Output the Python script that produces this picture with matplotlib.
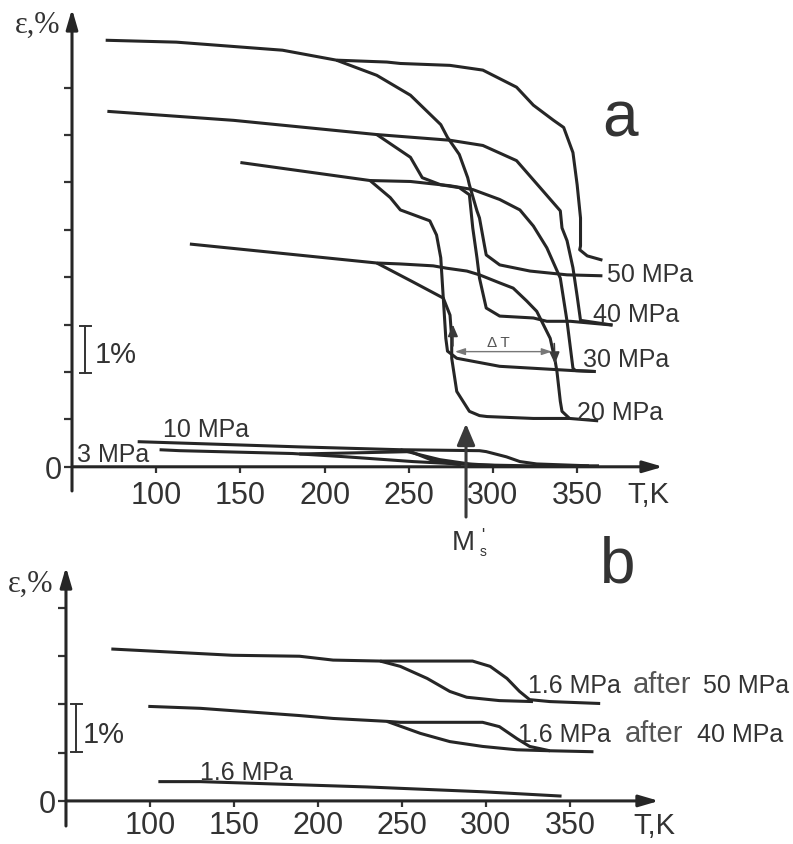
#! /usr/bin/python

import matplotlib.pyplot as plt

plt.rc('font', family=['Liberation Sans', 'DejaVu Sans'])

INK = '#262626'   # curves and axes
TXT = '#333333'   # text

# ---------------- panel a : loaded cooling / heating ----------------
t50_heat = [70, 112, 175, 207, 237, 245, 274.5, 294, 314, 324, 336, 342, 347.5, 350, 352, 352, 351.5, 356, 365]
e50_heat = [9.00, 8.96, 8.79, 8.58, 8.54, 8.51, 8.47, 8.37, 8.01, 7.63, 7.31, 7.16, 6.63, 5.95, 5.25, 4.66, 4.58, 4.45, 4.36]
t50_cool = [207, 231, 251, 269, 273, 280, 285, 286, 290.5, 292, 295, 296, 304, 322, 344, 365]
e50_cool = [8.58, 8.26, 7.84, 7.22, 6.95, 6.59, 6.10, 5.95, 5.40, 5.25, 4.66, 4.47, 4.26, 4.13, 4.05, 4.03]

t40_heat = [71, 146, 231, 274.5, 294, 314, 328, 340, 341, 344, 347.5, 350, 352, 371]
e40_heat = [7.50, 7.31, 7.01, 6.89, 6.78, 6.46, 5.89, 5.40, 5.04, 4.77, 4.20, 3.60, 3.09, 2.99]
t40_cool = [231, 251, 258, 269, 280, 286, 288, 290.5, 292, 296, 304, 324, 332, 346, 371]
e40_cool = [7.01, 6.53, 6.10, 5.95, 5.89, 5.74, 5.04, 4.41, 3.98, 3.35, 3.18, 3.14, 3.07, 3.07, 2.99]

t30_heat = [150, 227, 251, 274.5, 288, 304, 316, 324, 332, 340, 344, 347.5, 349, 361]
e30_heat = [6.42, 6.04, 6.02, 5.93, 5.85, 5.64, 5.42, 5.08, 4.62, 3.98, 3.07, 2.08, 2.03, 2.01]
t30_cool = [227, 239, 245, 262.5, 266.5, 269, 270.5, 272, 273, 278.5, 304, 347.5, 361]
e30_cool = [6.04, 5.68, 5.42, 5.19, 4.89, 4.41, 3.56, 2.71, 2.44, 2.29, 2.12, 2.03, 2.01]

t20_heat = [120, 231, 245, 264.5, 272.5, 284.5, 292, 304, 312, 320, 326, 334, 337, 338, 340, 341, 345.5, 362.5]
e20_heat = [4.70, 4.30, 4.28, 4.24, 4.19, 4.13, 4.05, 3.88, 3.77, 3.50, 3.28, 2.71, 2.22, 2.01, 1.38, 1.17, 1.02, 0.97]
t20_cool = [231, 252.5, 270.5, 274.5, 275.5, 275.5, 278.5, 286, 292, 296.5, 324, 345.5]
e20_cool = [4.30, 3.90, 3.56, 3.20, 2.71, 2.29, 1.59, 1.17, 1.08, 1.06, 1.02, 1.02]

t10_heat = [89, 185, 245, 292, 296, 308, 316, 326, 357]
e10_heat = [0.53, 0.42, 0.36, 0.34, 0.32, 0.21, 0.11, 0.06, 0.02]
t10_cool = [245, 257, 268.5, 286, 304]
e10_cool = [0.36, 0.25, 0.15, 0.06, 0.02]

t3_heat = [102, 114, 181, 213, 252.5, 268.5, 292, 322, 363]
e3_heat = [0.36, 0.34, 0.28, 0.21, 0.11, 0.08, 0.04, 0.02, 0.02]
t3_cool = [185, 226, 251, 264.5, 281]
e3_cool = [0.27, 0.30, 0.32, 0.13, 0.04]

# ---------------- panel b : 1.6 MPa after training ----------------
tb50_heat = [77, 149, 189, 209, 237, 268.5, 292, 302.5, 312.5, 320, 326, 338, 368]
eb50_heat = [3.15, 3.02, 3.00, 2.92, 2.90, 2.90, 2.90, 2.79, 2.54, 2.27, 2.10, 2.06, 2.02]
tb50_cool = [237, 249, 265, 278.5, 288.5, 308, 328]
eb50_cool = [2.90, 2.79, 2.54, 2.27, 2.15, 2.08, 2.06]
tb40_heat = [99, 130, 189, 209, 241, 249, 298, 308, 318.5, 326, 338, 364]
eb40_heat = [1.96, 1.92, 1.77, 1.71, 1.65, 1.63, 1.63, 1.54, 1.29, 1.13, 1.04, 1.02]
tb40_cool = [241, 261, 278.5, 298, 318.5, 338]
eb40_cool = [1.65, 1.40, 1.23, 1.13, 1.06, 1.04]
tb16 = [105, 130, 229, 298, 345]
eb16 = [0.40, 0.40, 0.29, 0.19, 0.10]

xticks = [100, 150, 200, 250, 300, 350]


def setup(ax, xmax, ymin, ymax, ytop, pad):
    ax.set_xlim(50, xmax)
    ax.set_ylim(ymin, ymax)
    ax.patch.set_visible(False)
    for s in ax.spines.values():
        s.set_visible(False)
    ax.spines['bottom'].set_position(('data', 0))
    ax.set_xticks(xticks)
    ax.set_xticklabels([str(v) for v in xticks])
    ax.tick_params(axis='x', direction='out', length=4.5, width=1.6,
                   pad=pad, labelsize=22, colors=TXT)
    ax.set_yticks(range(ytop + 1))
    ax.set_yticklabels(['0'] + [''] * ytop)
    ax.tick_params(axis='y', direction='out', length=6, width=1.6,
                   pad=1, labelsize=22, colors=TXT)
    head = dict(arrowstyle='-|>,head_length=1.2,head_width=0.35', lw=2.2,
                color=INK, shrinkA=0, shrinkB=0, mutation_scale=10)
    ax.annotate('', xy=(xmax, 0), xytext=(50, 0), arrowprops=head,
                annotation_clip=False)
    ax.annotate('', xy=(50, ymax), xytext=(50, ymin), arrowprops=head,
                annotation_clip=False)


fig = plt.figure(figsize=(7.93, 8.45), dpi=100)
ax = fig.add_axes([0.0908, 0.4178, 0.7453, 0.5704])
ax2 = fig.add_axes([0.0832, 0.0213, 0.7478, 0.3065])

setup(ax, 401, -0.51, 9.66, 8, 5)
setup(ax2, 403, -0.52, 4.85, 4, 2)

lk = dict(color=INK, lw=2.2, solid_joinstyle='round', solid_capstyle='butt')

# panel a curves
for t, e in [(t50_heat, e50_heat), (t50_cool, e50_cool),
             (t40_heat, e40_heat), (t40_cool, e40_cool),
             (t30_heat, e30_heat), (t30_cool, e30_cool),
             (t20_heat, e20_heat), (t20_cool, e20_cool),
             (t10_heat, e10_heat), (t10_cool, e10_cool),
             (t3_heat, e3_heat), (t3_cool, e3_cool)]:
    ax.plot(t, e, **lk)

# panel b curves
for t, e in [(tb50_heat, eb50_heat), (tb50_cool, eb50_cool),
             (tb40_heat, eb40_heat), (tb40_cool, eb40_cool),
             (tb16, eb16)]:
    ax2.plot(t, e, **lk)

# axis names
for a, x, y in [(ax, 16, 9.18), (ax2, 15.5, 4.35)]:
    a.text(x, y, 'ε,%', family='Liberation Serif', fontsize=22, color=TXT,
           ha='left', va='baseline')
ax.text(380, -0.74, 'T,K', fontsize=21, color=TXT, ha='left', va='baseline')
ax2.text(387.5, -0.66, 'T,K', fontsize=21, color=TXT, ha='left', va='baseline')

# panel letters
ax.text(365, 6.98, 'a', fontsize=46, color=TXT, ha='left', va='baseline')
ax2.text(368, 4.54, 'b', fontsize=46, color=TXT, ha='left', va='baseline')

# 1% scale bars
ax.plot([57.7, 57.7], [1.98, 2.97], color=TXT, lw=1.4)
ax.plot([54.8, 61.3], [1.98, 1.98], color=TXT, lw=1.4)
ax.plot([54.8, 61.3], [2.97, 2.97], color=TXT, lw=1.4)
ax.text(63.7, 2.22, '1%', fontsize=21, color=TXT, ha='left', va='baseline')
ax2.plot([56, 56], [1.02, 2.01], color=TXT, lw=1.4)
ax2.plot([53, 59.5], [1.02, 1.02], color=TXT, lw=1.4)
ax2.plot([53, 59.5], [2.01, 2.01], color=TXT, lw=1.4)
ax2.text(60.1, 1.22, '1%', fontsize=21, color=TXT, ha='left', va='baseline')

# curve labels, panel a
for x, y, s in [(367.7, 3.92, '50 MPa'), (359.4, 3.08, '40 MPa'),
                (353.4, 2.13, '30 MPa'), (349.9, 1.01, '20 MPa'),
                (104, 0.65, '10 MPa'), (53, 0.13, '3 MPa')]:
    ax.text(x, y, s, fontsize=18, color=TXT, ha='left', va='baseline')

# hysteresis width and direction marks
ax.annotate('', xy=(335, 2.43), xytext=(277.4, 2.43),
            arrowprops=dict(arrowstyle='<|-|>,head_length=0.6,head_width=0.2',
                            lw=1.0, color='#777777', shrinkA=0, shrinkB=0,
                            mutation_scale=10))
ax.text(296.4, 2.55, 'Δ T', fontsize=11, color='#555555', ha='left', va='baseline')
small = dict(arrowstyle='-|>,head_length=0.7,head_width=0.3', lw=1.2,
             color='#3a3a3a', shrinkA=0, shrinkB=0, mutation_scale=10)
ax.annotate('', xy=(276.2, 3.0), xytext=(276.2, 2.55), arrowprops=small)
ax.annotate('', xy=(336.8, 2.17), xytext=(336.4, 2.6), arrowprops=small)

# M's marker
ax.annotate('', xy=(284, 0.91), xytext=(284, -1.06),
            arrowprops=dict(arrowstyle='-|>,head_length=1.3,head_width=0.55',
                            lw=2.2, color='#3a3a3a', shrinkA=0, shrinkB=0,
                            mutation_scale=10),
            annotation_clip=False)
ax.text(275.7, -1.73, 'M', fontsize=20, color=TXT, ha='left', va='baseline')
ax.text(292.3, -1.86, 's', fontsize=10, color=TXT, ha='left', va='baseline')
ax.text(292.9, -1.27, "'", fontsize=12, color=TXT, ha='left', va='top')

# curve labels, panel b
ax2.text(129.8, 0.46, '1.6 MPa', fontsize=18, color=TXT, ha='left', va='baseline')
for y, xa, xb, xc, p in [(2.26, 325, 387.5, 429, '50 MPa'),
                          (1.24, 319, 382.7, 425.6, '40 MPa')]:
    ax2.text(xa, y, '1.6 MPa', fontsize=18, color=TXT, ha='left', va='baseline')
    ax2.text(xb, y, 'after', fontsize=21, color='#555555', ha='left', va='baseline')
    ax2.text(xc, y, p, fontsize=18, color=TXT, ha='left', va='baseline')

plt.savefig('out.png', dpi=100)
